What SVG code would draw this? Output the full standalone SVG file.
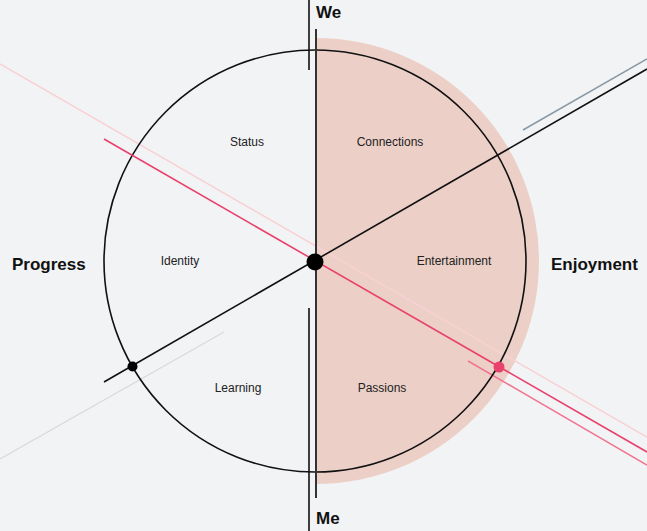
<svg xmlns="http://www.w3.org/2000/svg" width="647" height="531" viewBox="0 0 647 531">
<style>
.lbl{font-family:"Liberation Sans",Arial,sans-serif;font-size:12px;fill:#222;text-anchor:middle}
.big{font-family:"Liberation Sans",Arial,sans-serif;font-size:17px;font-weight:bold;fill:#111}
.blk{stroke:#111;stroke-width:1.6;fill:none}
</style>
<rect width="647" height="531" fill="#f2f3f5"/>
<g id="pink-half">
<path d="M316 38 A223 223 0 0 1 316 484 Z" fill="#ecd0c8"/>
</g>
<g id="connectors">
<line x1="0" y1="64" x2="647" y2="437" stroke="#f9d0d4" stroke-width="1.5"/>
<line x1="0" y1="459" x2="224" y2="332" stroke="#d9d9db" stroke-width="1.2"/>
<line x1="523" y1="130" x2="647" y2="59" stroke="#8a99a3" stroke-width="1.5"/>
<line x1="468" y1="361" x2="647" y2="465" stroke="#f27391" stroke-width="1.5"/>
<circle cx="315" cy="261" r="211" class="blk"/>
<line x1="104" y1="382" x2="647" y2="69" class="blk"/>
<line x1="104" y1="139" x2="647" y2="452" stroke="#e8416e" stroke-width="1.6"/>
<line x1="309" y1="0" x2="309" y2="70" class="blk"/>
<line x1="309" y1="308" x2="309" y2="531" class="blk"/>
<line x1="316" y1="29" x2="316" y2="498" stroke="#333" stroke-width="2"/>
</g>
<g id="dots">
<circle cx="315" cy="262" r="8.5" fill="#000"/>
<circle cx="132.5" cy="366.5" r="5" fill="#000"/>
<circle cx="499" cy="367" r="5.5" fill="#e8416e"/>
</g>
<g id="node-we"><text class="big" x="316" y="18">We</text></g>
<g id="node-me"><text class="big" x="316" y="524">Me</text></g>
<g id="node-progress"><text class="big" x="12" y="270">Progress</text></g>
<g id="node-enjoyment"><text class="big" x="551" y="270">Enjoyment</text></g>
<g id="node-status"><text class="lbl" x="247" y="146">Status</text></g>
<g id="node-connections"><text class="lbl" x="390" y="146">Connections</text></g>
<g id="node-identity"><text class="lbl" x="180" y="265">Identity</text></g>
<g id="node-entertainment"><text class="lbl" x="454" y="265">Entertainment</text></g>
<g id="node-learning"><text class="lbl" x="238" y="392">Learning</text></g>
<g id="node-passions"><text class="lbl" x="382" y="392">Passions</text></g>
</svg>
